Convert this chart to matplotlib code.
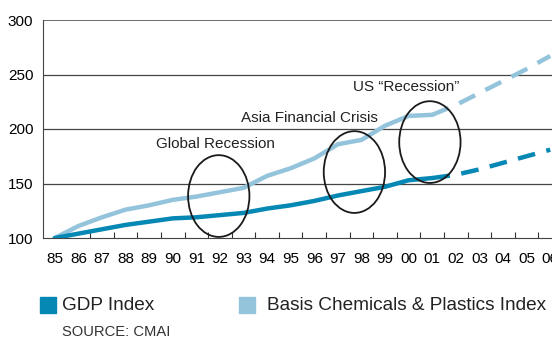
import matplotlib.pyplot as plt
from matplotlib.patches import Ellipse, Rectangle

# years as numbers (85 .. 106), labelled with two digits
years = list(range(85, 107))
year_labels = ["85", "86", "87", "88", "89", "90", "91", "92", "93", "94", "95",
               "96", "97", "98", "99", "00", "01", "02", "03", "04", "05", "06"]

# actuals up to 2001, forecast afterwards
gdp_actual = [100, 104, 108, 112, 115, 118, 119, 121, 123, 127, 130, 134, 139,
              143, 147, 153, 155]
gdp_forecast = [155, 158, 163, 169, 175, 181]
chem_actual = [100, 111, 119, 126, 130, 135, 138, 142, 146, 157, 164, 173, 186,
               190, 203, 212, 213]
chem_forecast = [213, 222, 233, 244, 255, 267]

gdp_color = "#0688b4"
chem_color = "#94c4dc"

plt.rcParams['font.family'] = ['Liberation Sans', 'DejaVu Sans']

fig = plt.figure(figsize=(5.52, 3.4), dpi=100)
# axes runs off the right edge of the figure
ax = fig.add_axes([43 / 552, 102 / 340, 519 / 552, 218 / 340])

ax.set_xlim(84.5, 106.5)
ax.set_ylim(100, 300)

for yv in [150, 200, 250]:
    ax.axhline(yv, color="#444444", lw=0.9, zorder=1)
ax.axhline(300, color="#555555", lw=1.2, zorder=1)

n = len(gdp_actual)
ax.plot(years[:n], chem_actual, color=chem_color, lw=3.2, solid_capstyle="round", zorder=3)
ax.plot(years[n - 1:], chem_forecast, color=chem_color, lw=3.2, dashes=(4, 2.6), zorder=3)
ax.plot(years[:n], gdp_actual, color=gdp_color, lw=3.2, solid_capstyle="round", zorder=4)
ax.plot(years[n - 1:], gdp_forecast, color=gdp_color, lw=3.2, dashes=(4, 2.6), zorder=4)

# circled recession periods
for cx, cy in [(91.95, 138.5), (97.7, 160.5), (100.9, 188)]:
    ax.add_patch(Ellipse((cx, cy), 2.6, 75, fill=False, ec="#1a1a1a", lw=1.3, zorder=5))

ax.text(91.8, 186, "Global Recession", fontsize=11, ha="center", va="center", color="#222222")
ax.text(95.8, 210, "Asia Financial Crisis", fontsize=11, ha="center", va="center", color="#222222")
ax.text(99.9, 238.5, "US \u201cRecession\u201d", fontsize=11, ha="center", va="center", color="#222222")

ax.set_xticks(years)
ax.set_xticklabels(year_labels)
ax.set_xticks([y + 0.5 for y in years[:-1]], minor=True)
ax.tick_params(axis="x", which="major", length=0, pad=10, labelsize=11)
ax.tick_params(axis="x", which="minor", direction="in", length=4, width=0.8, color="#333333")
ax.set_yticks([100, 150, 200, 250, 300])
ax.tick_params(axis="y", length=0, pad=7, labelsize=11)

for side in ["top", "right"]:
    ax.spines[side].set_visible(False)
ax.spines["left"].set_color("#444444")
ax.spines["bottom"].set_color("#444444")

# legend drawn by hand below the axes
fig.add_artist(Rectangle((40 / 552, 1 - 313 / 340), 16 / 552, 16 / 340,
                         transform=fig.transFigure, color=gdp_color))
fig.text(62 / 552, 1 - 305 / 340, "GDP Index", fontsize=13.7, va="center", color="#222222")
fig.add_artist(Rectangle((239 / 552, 1 - 313 / 340), 16 / 552, 16 / 340,
                         transform=fig.transFigure, color=chem_color))
fig.text(267 / 552, 1 - 305 / 340, "Basis Chemicals & Plastics Index", fontsize=13.7,
         va="center", color="#222222")
fig.text(62 / 552, 1 - 332 / 340, "SOURCE: CMAI", fontsize=10.6, va="center", color="#333333")

fig.savefig("out.png", dpi=100)
